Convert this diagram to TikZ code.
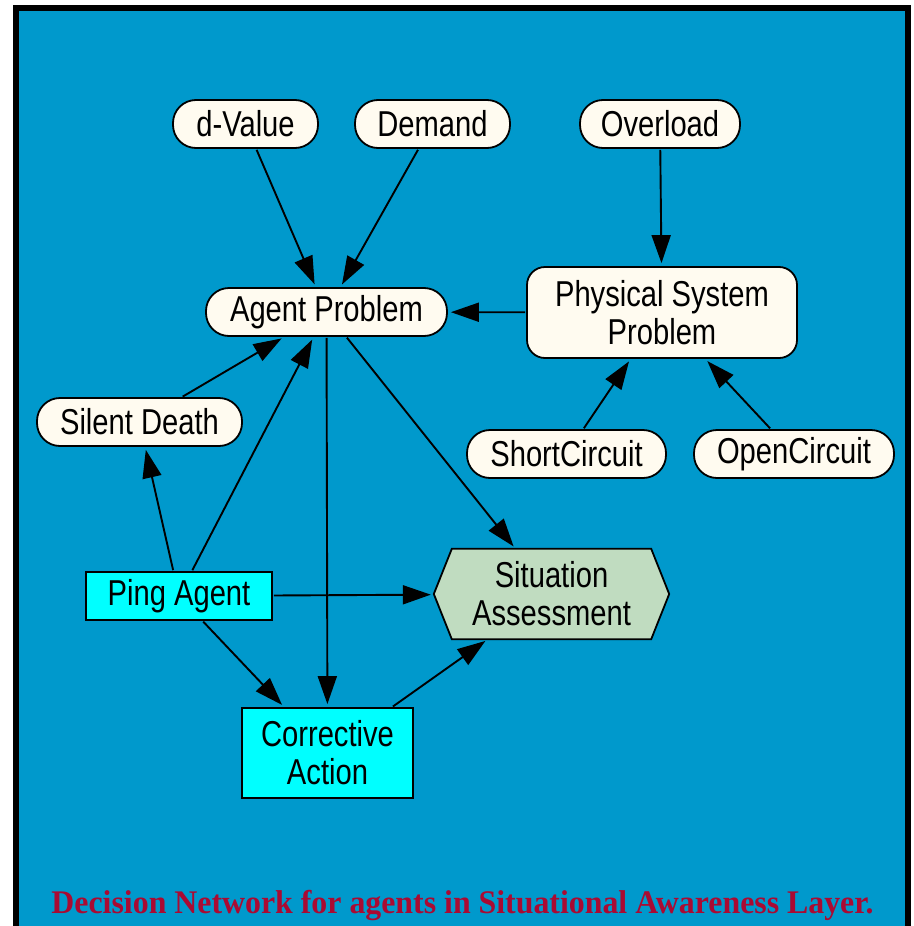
\documentclass[tikz,border=0pt]{standalone}
\usepackage{fontspec}
\usetikzlibrary{arrows.meta}
\newfontfamily\labelfont[FakeStretch=0.81]{Liberation Sans}
\newfontfamily\captionfont[FakeStretch=0.965]{Liberation Serif}
\definecolor{netblue}{RGB}{0,153,204}
\definecolor{ivory}{RGB}{255,251,240}
\definecolor{aqua}{RGB}{0,255,255}
\definecolor{moneygreen}{RGB}{192,220,192}
\definecolor{crimson}{RGB}{170,10,50}
\pgfdeclarelayer{back}
\pgfsetlayers{back,main}
\begin{document}
\begin{tikzpicture}[x=1pt,y=-1pt,>={Triangle[length=28pt,width=19pt]},
	chance/.style={draw,line width=1.8pt,fill=ivory,rounded corners=23pt,minimum height=48pt,inner sep=0pt,font=\labelfont\fontsize{36}{38}\selectfont},
	decision/.style={draw,line width=1.8pt,fill=aqua,inner sep=0pt,align=center,font=\labelfont\fontsize{36}{38}\selectfont},
	link/.style={->,line width=1.9pt,shorten <=1pt,shorten >=3pt}]
	\useasboundingbox(0,0)rectangle(913,926);
	\begin{pgfonlayer}{back}
		\fill[white](0,0)rectangle(913,926);
		\fill[black](13,5)rectangle(911,926);
		\fill[netblue](19,11)rectangle(905,926);
	\end{pgfonlayer}
	% chance nodes
	\foreach \name/\px/\py/\bw/\txt in {dv/245.5/124/145/d-Value,dm/432.5/124/155/Demand,ol/660/124/160/Overload,ap/326.5/312/241/Agent Problem,sd/139.5/422/205/Silent Death,sc/566.5/454/199/ShortCircuit,oc/794/454/200/OpenCircuit}{
		\node[chance,minimum width=\bw pt](\name)at(\px,\py){\txt};
	}
	\node[chance,rounded corners=18pt,minimum width=270pt,minimum height=91pt,align=center](psp)at(662,312.5){Physical System\\Problem};
	% decision nodes
	\node[decision,minimum width=186pt,minimum height=48pt](pa)at(179,596){Ping Agent};
	\node[decision,minimum width=171pt,minimum height=90pt](ca)at(327.5,753){Corrective\\Action};
	% utility node
	\node[inner sep=0pt,minimum width=235pt,minimum height=90pt,align=center,font=\labelfont\fontsize{36}{38}\selectfont](sa)at(551.5,594){Situation\\Assessment};
	\begin{pgfonlayer}{back}
		\filldraw[fill=moneygreen,line width=1.8pt,line join=miter](sa.west)--([xshift=18pt]sa.north west)--([xshift=-18pt]sa.north east)--(sa.east)--([xshift=-18pt]sa.south east)--([xshift=18pt]sa.south west)--cycle;
	\end{pgfonlayer}
	\foreach \a/\b in {dv/ap,dm/ap,ol/psp,psp/ap,sd/ap,sc/psp,oc/psp,pa/sd,pa/ap,ap/sa,ap/ca,pa/sa,pa/ca,ca/sa}{
		\draw[link](\a)--(\b);
	}
	\node[anchor=base,text=crimson,font=\captionfont\bfseries\fontsize{33}{36}\selectfont](cap)at(462.5,913){Decision Network for agents in Situational Awareness Layer.};
\end{tikzpicture}
\end{document}
